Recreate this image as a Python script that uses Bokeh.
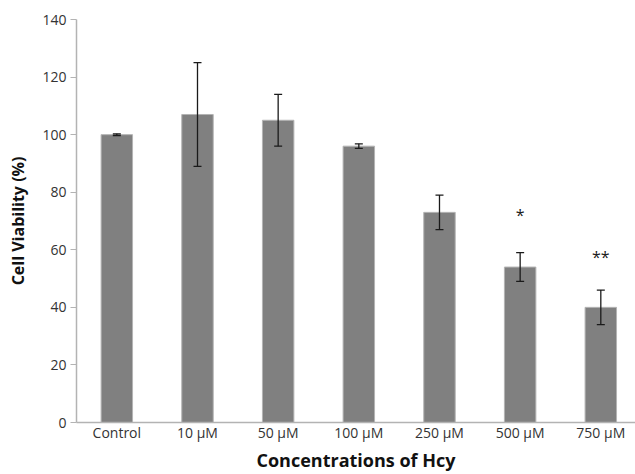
from bokeh.plotting import figure
from bokeh.models import ColumnDataSource, Range1d, FixedTicker, Whisker, TeeHead
from bokeh.core.properties import value
from bokeh.embed import file_html
from bokeh.resources import INLINE

categories = ["Control", "10 \u00b5M", "50 \u00b5M", "100 \u00b5M", "250 \u00b5M", "500 \u00b5M", "750 \u00b5M"]
viability = [100, 107, 105, 96, 73, 54, 40]
errors = [0.3, 18, 9, 0.8, 6, 5, 6]
sig_labels = ["", "", "", "", "", "*", "**"]
sig_heights = [None, None, None, None, None, 72, 57.5]
y_ticks = [0, 20, 40, 60, 80, 100, 120, 140]

xs = list(range(len(categories)))
src = ColumnDataSource(dict(
    x=xs, top=viability,
    upper=[v + e for v, e in zip(viability, errors)],
    lower=[v - e for v, e in zip(viability, errors)],
))

p = figure(width=635, height=474, output_backend="svg", toolbar_location=None,
           x_range=Range1d(-0.5, 6.43), y_range=Range1d(0, 140),
           min_border_left=76, min_border_right=0, min_border_top=19, min_border_bottom=50)
p.background_fill_color = "white"
p.border_fill_color = "white"
p.outline_line_color = None
p.grid.visible = False

p.vbar(x="x", top="top", width=0.39, bottom=0, source=src,
       fill_color="#808080", line_color="#b4b4b4", line_width=1)

w = Whisker(base="x", upper="upper", lower="lower", source=src,
            line_color="#1a1a1a", line_width=1.3, level="annotation",
            upper_head=TeeHead(size=8, line_color="#1a1a1a", line_width=1.3),
            lower_head=TeeHead(size=8, line_color="#1a1a1a", line_width=1.3))
p.add_layout(w)

sx = [x for x, s in zip(xs, sig_labels) if s]
sy = [h for h, s in zip(sig_heights, sig_labels) if s]
st = [s for s in sig_labels if s]
p.text(x=sx, y=sy, text=st, text_align="center", text_baseline="middle",
       text_font=value("Open Sans"), text_font_size="16px", text_color="#1a1a1a")

axis_col = "#b3b3b3"
p.xaxis.ticker = FixedTicker(ticks=xs)
p.xaxis.major_label_overrides = {i: c for i, c in zip(xs, categories)}
p.xaxis.major_tick_line_color = None
p.xaxis.major_tick_out = 0
p.xaxis.major_tick_in = 0
p.xaxis.minor_tick_line_color = None
p.xaxis.axis_line_color = axis_col
p.xaxis.axis_line_width = 1.5
p.xaxis.major_label_standoff = 0
p.xaxis.axis_label = "Concentrations of Hcy"
p.xaxis.axis_label_standoff = 3
p.xaxis.axis_label_text_font_size = "18px"

p.yaxis.ticker = FixedTicker(ticks=y_ticks)
p.yaxis.minor_tick_line_color = None
p.yaxis.major_tick_in = 0
p.yaxis.major_tick_out = 6
p.yaxis.major_tick_line_color = axis_col
p.yaxis.axis_line_color = axis_col
p.yaxis.axis_line_width = 1.5
p.yaxis.major_label_standoff = 4
p.yaxis.axis_label = "Cell Viability (%)"
p.yaxis.axis_label_standoff = 10
p.yaxis.axis_label_text_font_size = "16px"

for ax in (p.xaxis, p.yaxis):
    ax.major_label_text_font = "Open Sans"
    ax.major_label_text_font_size = "14px"
    ax.major_label_text_color = "#333333"
    ax.axis_label_text_font = "Open Sans"
    ax.axis_label_text_font_style = "bold"
    ax.axis_label_text_color = "#111111"

open("out.html", "w").write(file_html(p, INLINE))
